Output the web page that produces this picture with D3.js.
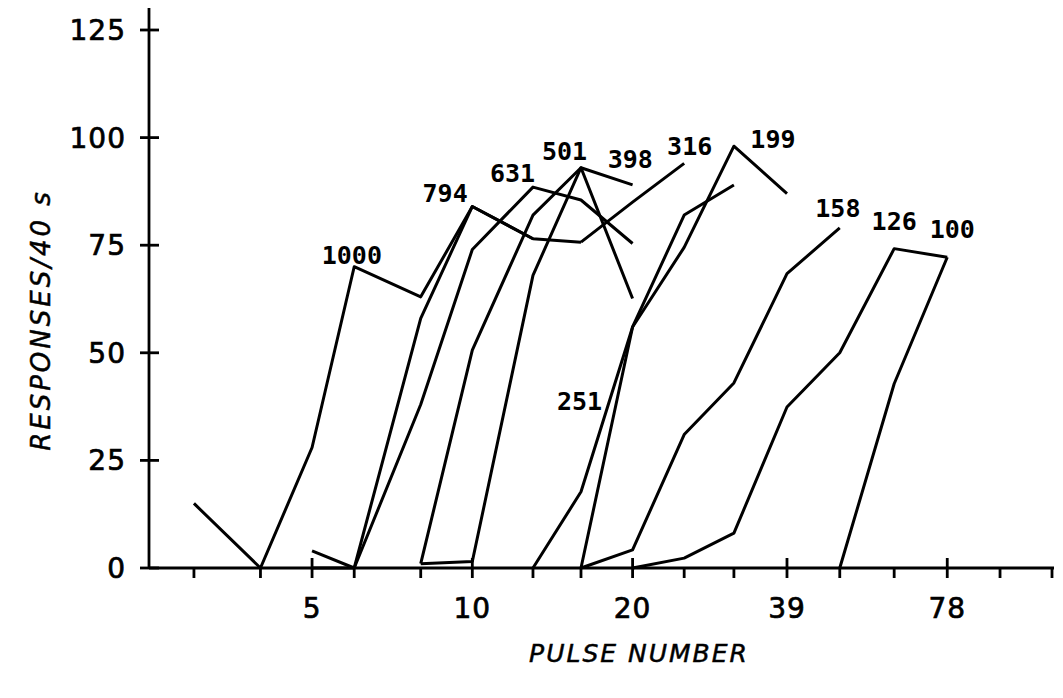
<!DOCTYPE html>
<html>
<head>
<meta charset="utf-8">
<script src="https://d3js.org/d3.v7.min.js"></script>
<style>
body { margin:0; background:#fff; }
svg text { fill:#000; }
</style>
</head>
<body>
<div id="chart"></div>
<script>
// pulse-number ticks on the log x axis, labelled ones
var xTicks = [3,4,5,6,8,10,13,16,20,25,31,39,49,62,78,98];
var xLabels = [5,10,20,39,78];
var yTicks = [0,25,50,75,100,125];

// one series per rate, [pulse number, responses]
var s1000 = [[3,15],[4,0],[5,28],[6,70],[8,63],[10,84],[13,76.5]];
var s794 = [[5,4],[6,0],[8,58],[10,84],[13,76.5],[16,75.7]];
var s631 = [[5,0],[6,0],[8,38],[10,74],[13,88.5],[16,85.5],[20,75.4]];
var s501 = [[8,1],[10,50.6],[13,82],[16,93],[20,62.6]];
var s398 = [[8,1],[10,1.5],[13,68],[16,93],[20,89]];
var s316 = [[16,75.7],[20,85],[25,94]];
var s251 = [[16,0],[20,56],[25,82],[31,89]];
var s199 = [[13,0],[16,17.7],[20,56],[25,74.5],[31,98],[39,87]];
var s158 = [[16,0],[20,4.2],[25,31],[31,43],[39,68.4],[49,79]];
var s126 = [[20,0],[25,2.3],[31,8.1],[39,37.4],[49,50],[62,74.2],[78,72.2]];
var s100 = [[49,0],[62,42.8],[78,72.2]];

var series = [s1000,s794,s631,s501,s398,s316,s251,s199,s158,s126,s100];
var labelText = ["1000","794","631","501","398","316","251","199","158","126","100"];
// label anchor (centre, baseline): [pulse, response]
var labelAt = [[5.94,70.6],[8.89,85],[11.9,89.7],[14.9,94.8],[19.8,92.9],[25.6,96],[15.9,36.7],[36.7,97.6],[48.6,81.6],[62,78.5],[79.7,76.7]];

var W = 1063, H = 698;
var svg = d3.select("#chart").append("svg")
    .attr("width", W)
    .attr("height", H);

var x = d3.scaleLog().domain([2.47, 122.7]).range([149, 1052]);
var y = d3.scaleLinear().domain([0, 125]).range([568, 30]);

// y axis
svg.append("line")
   .attr("x1", 149).attr("x2", 149)
   .attr("y1", 8).attr("y2", 568)
   .style("stroke", "#000").style("stroke-width", 2.8);

svg.selectAll(".ytick").data(yTicks).enter().append("line")
   .attr("x1", 140).attr("x2", 159)
   .attr("y1", function(d){ return y(d); })
   .attr("y2", function(d){ return y(d); })
   .style("stroke", "#000").style("stroke-width", 2.8);

svg.selectAll(".ylab").data(yTicks).enter().append("text")
   .text(function(d){ return d; })
   .attr("x", 126)
   .attr("y", function(d){ return y(d) + 10; })
   .style("text-anchor", "end")
   .style("font-family", "DejaVu Sans")
   .style("font-size", "28px")
   .style("letter-spacing", "1px")
   .style("stroke", "#000").style("stroke-width", 0.7);

// x axis
svg.append("line")
   .attr("x1", 149).attr("x2", 1054)
   .attr("y1", 568).attr("y2", 568)
   .style("stroke", "#000").style("stroke-width", 2.8);

svg.selectAll(".xtick").data(xTicks).enter().append("line")
   .attr("x1", function(d){ return x(d); })
   .attr("x2", function(d){ return x(d); })
   .attr("y1", function(d){ return xLabels.indexOf(d) >= 0 ? 558 : 568; })
   .attr("y2", 578)
   .style("stroke", "#000").style("stroke-width", 2.8);

svg.append("line")
   .attr("x1", 1052).attr("x2", 1052)
   .attr("y1", 568).attr("y2", 578)
   .style("stroke", "#000").style("stroke-width", 2.8);

svg.selectAll(".xlab").data(xLabels).enter().append("text")
   .text(function(d){ return d; })
   .attr("x", function(d){ return x(d); })
   .attr("y", 618)
   .style("text-anchor", "middle")
   .style("font-family", "DejaVu Sans")
   .style("font-size", "28px")
   .style("letter-spacing", "1px")
   .style("stroke", "#000").style("stroke-width", 0.7);

// axis titles
svg.append("text")
   .text("PULSE NUMBER")
   .attr("x", 639).attr("y", 662)
   .style("text-anchor", "middle")
   .style("font-family", "DejaVu Sans")
   .style("font-style", "italic")
   .style("font-size", "25px")
   .style("letter-spacing", "2px")
   .style("stroke", "#000").style("stroke-width", 0.5);

svg.append("text")
   .text("RESPONSES/40 s")
   .attr("transform", "translate(50,320) rotate(-90)")
   .style("text-anchor", "middle")
   .style("font-family", "DejaVu Sans")
   .style("font-style", "italic")
   .style("font-size", "26px")
   .style("letter-spacing", "3px")
   .style("stroke", "#000").style("stroke-width", 0.5);

// curves
var line = d3.line()
   .x(function(d){ return x(d[0]); })
   .y(function(d){ return y(d[1]); });

svg.selectAll(".curve").data(series).enter().append("path")
   .attr("d", line)
   .style("fill", "none")
   .style("stroke", "#000")
   .style("stroke-width", 3)
   .style("stroke-linejoin", "round");

svg.selectAll(".clab").data(labelText).enter().append("text")
   .text(function(d){ return d; })
   .attr("x", function(d, i){ return x(labelAt[i][0]); })
   .attr("y", function(d, i){ return y(labelAt[i][1]); })
   .style("text-anchor", "middle")
   .style("font-family", "DejaVu Sans Mono")
   .style("font-weight", "bold")
   .style("font-size", "25px");
</script>
</body>
</html>
